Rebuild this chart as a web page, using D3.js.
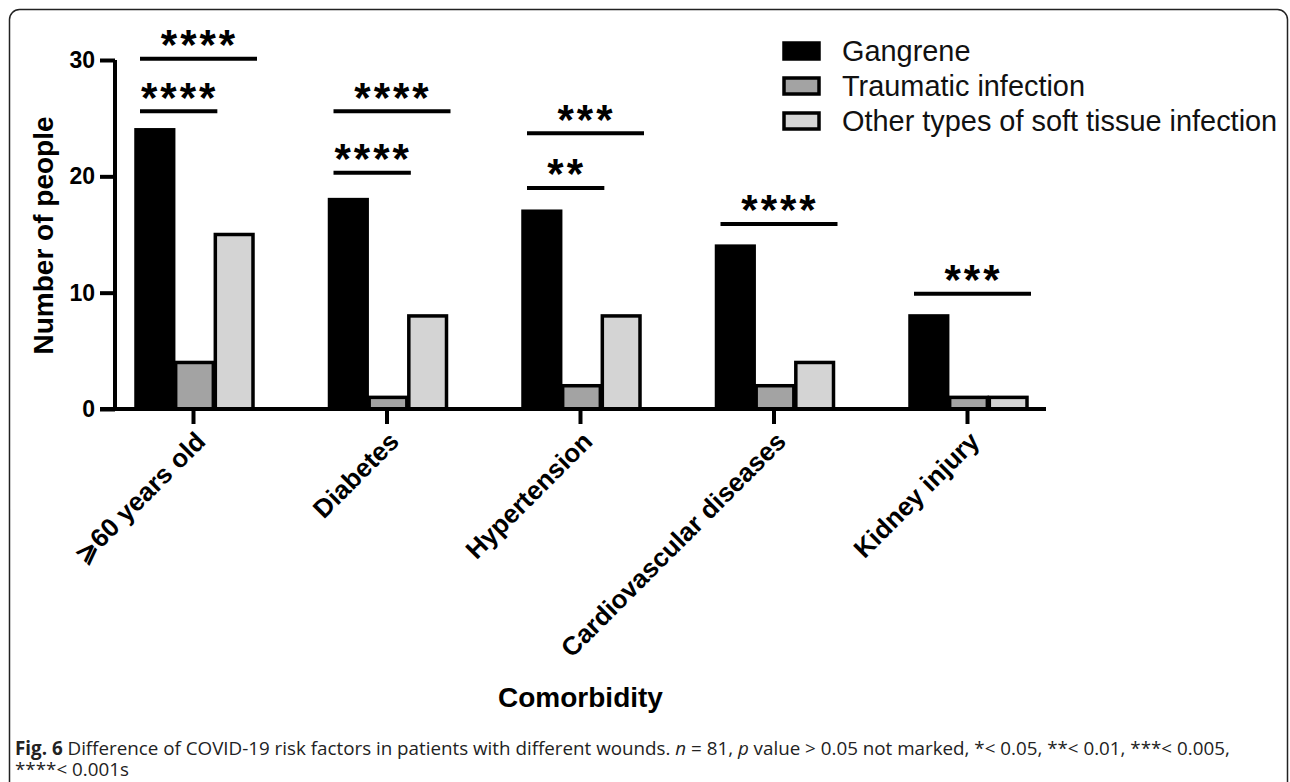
<!DOCTYPE html>
<html>
<head>
<meta charset="utf-8">
<script src="https://cdn.jsdelivr.net/npm/d3@7"></script>
<style>
  html, body { margin: 0; padding: 0; background: #fff; }
  svg { display: block; }
</style>
</head>
<body>
<svg id="chart" width="1290" height="782"></svg>
<script>
// Comorbidity counts per wound type
const categories = ["⩾60 years old", "Diabetes", "Hypertension", "Cardiovascular diseases", "Kidney injury"];
const seriesNames = ["Gangrene", "Traumatic infection", "Other types of soft tissue infection"];
const gangrene = [24, 18, 17, 14, 8];
const traumatic = [4, 1, 2, 2, 1];
const otherSoft = [15, 8, 8, 4, 1];
const seriesValues = [gangrene, traumatic, otherSoft];
const seriesFill = ["#000000", "#a3a3a3", "#d4d4d4"];

const yTicks = [0, 10, 20, 30];

// Significance brackets: category, first bar, last bar, bracket height (data units), stars
const sigGroup = [0, 0, 1, 1, 2, 2, 3, 4];
const sigFrom  = [0, 0, 0, 0, 0, 0, 0, 0];
const sigTo    = [2, 1, 2, 1, 2, 1, 2, 2];
const sigLevel = [30.1, 25.6, 25.6, 20.3, 23.7, 19.0, 15.9, 9.9];
const sigStars = ["****", "****", "****", "****", "***", "**", "****", "***"];

const svg = d3.select("#chart");
const chartFont = "'Liberation Sans', Arial, Helvetica, sans-serif";

// outer frame
svg.append("rect")
  .attr("x", 9.5).attr("y", 9.5)
  .attr("width", 1278).attr("height", 820)
  .attr("rx", 10).attr("ry", 10)
  .attr("fill", "none").attr("stroke", "#222").attr("stroke-width", 1.5);

const y = d3.scaleLinear().domain([0, 30]).range([409, 60]);
const x = d3.scalePoint().domain(categories).range([193, 967]);
const xSub = d3.scaleBand().domain(d3.range(seriesNames.length)).range([-57, 60]).paddingInner(0.05);

const axisLeftX = 115;
const axisRightX = 1046;

// bars
const barData = [];
seriesValues.forEach((vals, s) => {
  vals.forEach((v, i) => barData.push({ cat: categories[i], s, v }));
});

svg.append("g").selectAll("rect")
  .data(barData)
  .join("rect")
  .attr("x", d => x(d.cat) + xSub(d.s))
  .attr("y", d => y(d.v))
  .attr("width", xSub.bandwidth())
  .attr("height", d => y(0) - y(d.v))
  .attr("fill", d => seriesFill[d.s])
  .attr("stroke", "#000")
  .attr("stroke-width", 3.5);

// y axis
const yAxis = d3.axisLeft(y).tickValues(yTicks).tickSize(15).tickPadding(5);
const gy = svg.append("g").attr("transform", `translate(${axisLeftX},0)`).call(yAxis);
gy.select(".domain").attr("d", `M0,${y(30)}V${y(0) + 2}`).attr("stroke", "#000").attr("stroke-width", 4);
gy.selectAll(".tick line").attr("stroke", "#000").attr("stroke-width", 4);
gy.selectAll(".tick text")
  .attr("font-family", chartFont).attr("font-weight", "bold")
  .attr("font-size", 23).attr("fill", "#000");

// x axis
const xAxis = d3.axisBottom(x).tickSize(15).tickFormat("");
const gx = svg.append("g").attr("transform", `translate(0,${y(0)})`).call(xAxis);
gx.select(".domain").attr("d", `M${axisLeftX - 15},0H${axisRightX}`).attr("stroke", "#000").attr("stroke-width", 4);
gx.selectAll(".tick line").attr("stroke", "#000").attr("stroke-width", 4);

// rotated category labels
svg.append("g").selectAll("text")
  .data(categories)
  .join("text")
  .attr("transform", d => `translate(${x(d) + 14},${y(0) + 34}) rotate(-45)`)
  .attr("text-anchor", "end")
  .attr("font-family", chartFont)
  .attr("font-weight", "bold")
  .attr("font-size", 26)
  .attr("fill", "#000")
  .text(d => d);

// axis titles
svg.append("text")
  .attr("transform", `translate(53,${(y(30) + y(0)) / 2 + 1}) rotate(-90)`)
  .attr("text-anchor", "middle")
  .attr("font-family", chartFont).attr("font-weight", "bold")
  .attr("font-size", 28).attr("fill", "#000")
  .text("Number of people");

svg.append("text")
  .attr("x", (axisLeftX + axisRightX) / 2).attr("y", 707)
  .attr("text-anchor", "middle")
  .attr("font-family", chartFont).attr("font-weight", "bold")
  .attr("font-size", 28).attr("fill", "#000")
  .text("Comorbidity");

// significance brackets
const starSize = 42;
const sig = svg.append("g");
sigGroup.forEach((g, k) => {
  const cat = categories[g];
  const x1 = x(cat) + xSub(sigFrom[k]) + 4;
  const x2 = x(cat) + xSub(sigTo[k]) + xSub.bandwidth() + 4;
  const ly = y(sigLevel[k]);
  sig.append("line")
    .attr("x1", x1).attr("x2", x2)
    .attr("y1", ly).attr("y2", ly)
    .attr("stroke", "#000").attr("stroke-width", 4);
  sig.append("text")
    .attr("x", (x1 + x2) / 2 + 1)
    .attr("y", ly - 24 + 0.58 * starSize)
    .attr("text-anchor", "middle")
    .attr("font-family", chartFont).attr("font-weight", "bold")
    .attr("font-size", starSize).attr("letter-spacing", 3)
    .attr("fill", "#000")
    .text(sigStars[k]);
});

// legend
const legend = svg.append("g").attr("transform", "translate(784,51)");
seriesNames.forEach((name, s) => {
  const row = legend.append("g").attr("transform", `translate(0,${s * 35})`);
  row.append("rect")
    .attr("x", 0).attr("y", -8)
    .attr("width", 35).attr("height", 16)
    .attr("fill", seriesFill[s])
    .attr("stroke", "#000").attr("stroke-width", 3.5);
  row.append("text")
    .attr("x", 58).attr("y", 10)
    .attr("font-family", chartFont)
    .attr("font-size", 28.9).attr("fill", "#111")
    .text(name);
});

// figure caption (two lines in one text block)
const capFont = "'Open Sans', 'Noto Sans', sans-serif";
const cap = svg.append("text")
  .attr("x", 15).attr("y", 755)
  .attr("font-family", capFont).attr("font-size", 18.8).attr("fill", "#222");
cap.append("tspan").attr("font-weight", "bold").text("Fig. 6");
cap.append("tspan").text(" Difference of COVID-19 risk factors in patients with different wounds. ");
cap.append("tspan").attr("font-style", "italic").text("n");
cap.append("tspan").text(" = 81, ");
cap.append("tspan").attr("font-style", "italic").text("p");
cap.append("tspan").text(" value > 0.05 not marked, *< 0.05, **< 0.01, ***< 0.005,");
cap.append("tspan").attr("x", 15).attr("dy", 21).text("****< 0.001s");
</script>
</body>
</html>
